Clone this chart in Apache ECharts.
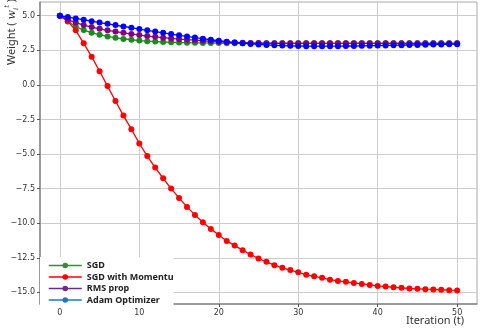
<!DOCTYPE html>
<html><head><meta charset="utf-8">
<script src="https://cdn.jsdelivr.net/npm/echarts@6/dist/echarts.min.js"></script>
<style>html,body{margin:0;padding:0;background:#fff}#c{width:480px;height:330px}</style>
</head><body><div id="c"></div>
<script>
const iterations = [0,1,2,3,4,5,6,7,8,9,10,11,12,13,14,15,16,17,18,19,20,21,22,23,24,25,26,27,28,29,30,31,32,33,34,35,36,37,38,39,40,41,42,43,44,45,46,47,48,49,50];
const sgd = [5.0,4.58,4.22,3.96,3.77,3.62,3.5,3.4,3.32,3.26,3.2,3.16,3.13,3.1,3.08,3.06,3.05,3.04,3.03,3.02,3.02,3.01,3.01,3.01,3.0,3.0,3.0,3.0,3.0,3.0,3.0,3.0,3.0,3.0,3.0,3.0,3.0,3.0,3.0,3.0,3.0,3.0,3.0,3.0,3.0,3.0,3.0,3.0,3.0,3.0,3.0];
const momentum = [5.0,4.6,3.94,3.0,2.04,0.98,-0.09,-1.17,-2.22,-3.2,-4.24,-5.15,-5.98,-6.75,-7.5,-8.17,-8.82,-9.4,-9.93,-10.41,-10.85,-11.28,-11.62,-11.95,-12.26,-12.55,-12.79,-13.03,-13.22,-13.39,-13.55,-13.72,-13.84,-13.95,-14.08,-14.17,-14.24,-14.32,-14.39,-14.46,-14.53,-14.58,-14.63,-14.67,-14.72,-14.74,-14.77,-14.79,-14.81,-14.84,-14.86];
const rmsprop = [5.0,4.72,4.5,4.32,4.18,4.05,3.94,3.85,3.76,3.68,3.6,3.53,3.47,3.41,3.36,3.31,3.27,3.23,3.19,3.15,3.12,3.09,3.07,3.05,3.03,3.02,3.01,3.0,3.0,3.0,3.0,3.0,3.0,3.0,3.0,3.0,3.0,3.0,3.0,3.0,3.0,3.0,3.0,3.0,3.0,3.0,3.0,3.0,3.0,3.0,3.0];
const adam = [5.0,4.9,4.8,4.7,4.6,4.5,4.41,4.32,4.22,4.13,4.03,3.94,3.85,3.76,3.67,3.58,3.5,3.42,3.34,3.26,3.19,3.12,3.06,3.01,2.96,2.92,2.89,2.86,2.84,2.82,2.81,2.8,2.8,2.8,2.8,2.8,2.81,2.81,2.82,2.83,2.84,2.85,2.86,2.87,2.88,2.89,2.9,2.91,2.92,2.93,2.94];
const seriesNames = ['SGD','SGD with Momentu','RMS prop','Adam Optimizer'];
const xTicks = [0,10,20,30,40,50];
const yTicks = [-15,-12.5,-10,-7.5,-5,-2.5,0,2.5,5];

const chart = echarts.init(document.getElementById('c'), null, {renderer:'canvas'});
const pts = arr => iterations.map((t,i)=>[t,arr[i]]);
const lineColors = ['#1e8a1e','#ff0000','#800080','#0000ff'];
const legendColors = ['#3a8a3a','#ff0000','#6a2a8a','#1f77c4'];
const datas = [sgd, momentum, rmsprop, adam];
const fmt = v => (v<0?'\u2212':'') + Math.abs(v).toFixed(1);
chart.setOption({
  animation:false,
  grid:{left:40,right:3,top:2,bottom:26,show:true,borderColor:'#a8a8a8',borderWidth:1},
  xAxis:{type:'value',min:-2.5,max:52.5,
    axisLine:{show:true,onZero:false,lineStyle:{color:'#888',width:1.5}},
    axisTick:{show:true,customValues:xTicks,length:3,lineStyle:{color:'#555'}},
    axisLabel:{customValues:xTicks,fontSize:8,color:'#333',margin:5,fontFamily:'DejaVu Sans'},
    splitLine:{show:true,lineStyle:{color:'#cccccc',width:1}}},
  yAxis:{type:'value',min:-15.84,max:5.99,
    axisLine:{show:true,onZero:false,lineStyle:{color:'#888',width:1.5}},
    axisTick:{show:true,customValues:yTicks,length:3,lineStyle:{color:'#555'}},
    axisLabel:{customValues:yTicks,fontSize:8,color:'#333',margin:5,fontFamily:'DejaVu Sans',formatter:fmt},
    splitLine:{show:true,lineStyle:{color:'#cccccc',width:1}}},
  legend:{orient:'vertical',left:40,top:257,padding:[4,0,3,8],backgroundColor:'#fff',
    itemWidth:33,itemHeight:7,itemGap:2.5,
    textStyle:{fontSize:9,fontWeight:'bold',color:'#222',fontFamily:'Noto Sans'},
    data:seriesNames.map((n,i)=>({name:n,itemStyle:{color:legendColors[i]},lineStyle:{color:legendColors[i],width:1.5}}))},
  series:datas.map((d,i)=>({name:seriesNames[i],type:'line',data:pts(d),
    symbol:'circle',symbolSize:6,showSymbol:true,
    lineStyle:{color:lineColors[i],width:1.3},itemStyle:{color:lineColors[i]},z:2+i})),
  graphic:[
    {type:'text',x:435,y:321,style:{text:'Iteration (t)',fontSize:11,fontFamily:'Noto Sans',fill:'#333',align:'center',verticalAlign:'middle'}},
    {type:'text',x:12,y:32,rotation:Math.PI/2,style:{text:'{n|Weight ( }{w|w}{s|i}{p|t}{n| )}',align:'center',verticalAlign:'middle',fill:'#333',
      rich:{n:{fontSize:11,fontFamily:'Noto Sans',fill:'#333',lineHeight:16},
            w:{fontSize:11,fontStyle:'italic',fontFamily:'DejaVu Serif',fill:'#333',lineHeight:16},
            s:{fontSize:7,fontStyle:'italic',fontFamily:'DejaVu Serif',fill:'#333',verticalAlign:'bottom',lineHeight:16},
            p:{fontSize:7,fontStyle:'italic',fontFamily:'DejaVu Serif',fill:'#333',verticalAlign:'top',lineHeight:16}}}}
  ]
});
</script></body></html>
